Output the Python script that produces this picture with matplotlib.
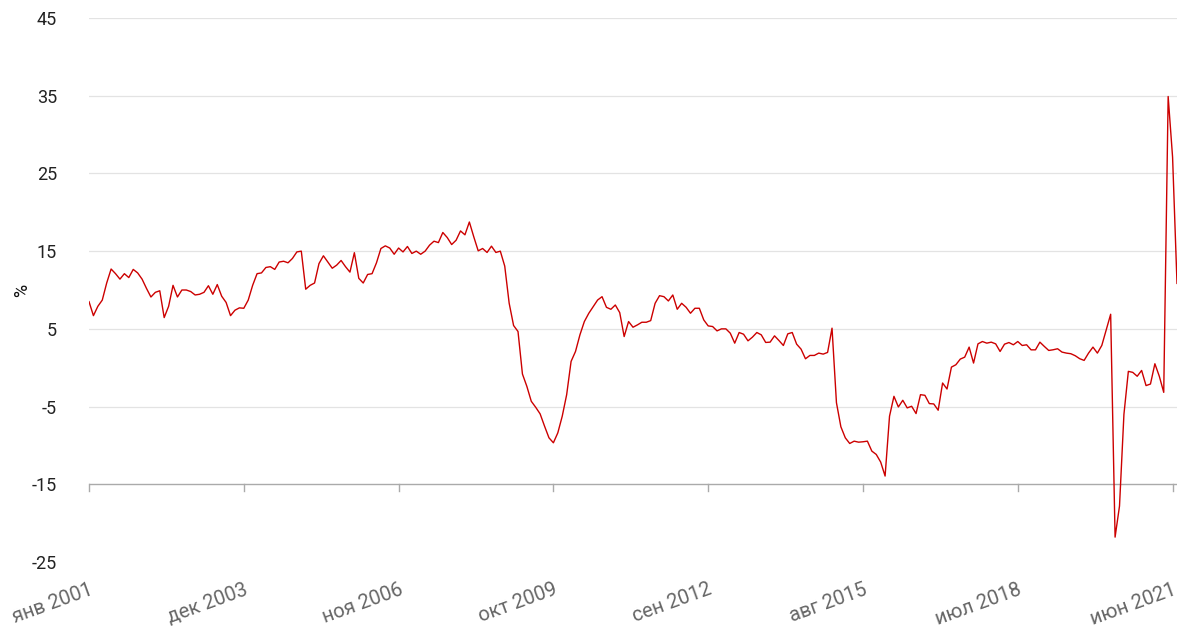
import numpy as np
import matplotlib.pyplot as plt

# monthly values, Jan 2001 .. Jul 2021 (%)
values = [
    8.5, 6.7, 7.9, 8.7, 10.9, 12.7, 12.1, 11.4, 12.1, 11.6, 12.65, 12.2,
    11.4, 10.2, 9.1, 9.7, 9.9, 6.45, 7.9, 10.6, 9.1, 10.0, 10.0, 9.8,
    9.36, 9.45, 9.7, 10.55, 9.45, 10.7, 9.2, 8.4, 6.7, 7.4, 7.7, 7.65,
    8.7, 10.6, 12.1, 12.2, 12.9, 13.0, 12.65, 13.6, 13.7, 13.5, 14.06, 14.9,
    15.0, 10.1, 10.6, 10.9, 13.4, 14.4, 13.6, 12.8, 13.2, 13.8, 13.0, 12.3,
    14.8, 11.5, 10.9, 12.0, 12.1, 13.5, 15.34, 15.68, 15.4, 14.6, 15.4, 14.9,
    15.6, 14.7, 15.0, 14.6, 15.0, 15.77, 16.28, 16.1, 17.4, 16.75, 15.85, 16.4,
    17.6, 17.1, 18.75, 16.84, 15.04, 15.34, 14.83, 15.64, 14.83, 15.0, 13.07, 8.3,
    5.43, 4.66, -0.81, -2.4, -4.32, -5.09, -5.94, -7.52, -9.02, -9.66, -8.38, -6.24,
    -3.47, 0.81, 2.09, 4.23, 5.94, 7.0, 7.86, 8.71, 9.14, 7.77, 7.52, 8.07,
    7.09, 4.01, 5.94, 5.21, 5.51, 5.85, 5.85, 6.06, 8.29, 9.27, 9.14, 8.59,
    9.36, 7.52, 8.29, 7.78, 7.01, 7.65, 7.65, 6.15, 5.38, 5.30, 4.74, 5.0,
    5.0, 4.44, 3.16, 4.53, 4.31, 3.46, 3.93, 4.53, 4.23, 3.25, 3.29, 4.10,
    3.5, 2.86, 4.36, 4.53, 3.03, 2.39, 1.15, 1.58, 1.58, 1.88, 1.75, 1.97,
    5.09, -4.5, -7.6, -9.02, -9.75, -9.45, -9.58, -9.53, -9.45, -10.73, -11.16, -12.14,
    -13.94, -6.24, -3.68, -5.05, -4.19, -5.17, -4.96, -5.9, -3.47, -3.55, -4.62, -4.66,
    -5.47, -1.97, -2.74, 0.08, 0.38, 1.11, 1.36, 2.65, 0.6, 3.07, 3.37, 3.16,
    3.29, 3.07, 2.09, 3.03, 3.24, 2.95, 3.37, 2.86, 2.95, 2.3, 2.3, 3.29,
    2.74, 2.22, 2.31, 2.44, 2.01, 1.88, 1.8, 1.54, 1.16, 0.94, 1.88, 2.65,
    1.88, 2.87, 4.87, 6.88, -21.8, -17.8, -6.0, -0.47, -0.6, -1.1, -0.35, -2.3,
    -2.1, 0.51, -1.1, -3.17, 34.9, 27.1, 10.85,
]
tick_pos = [0, 35, 70, 105, 140, 175, 210, 245]
tick_labels = ['янв 2001', 'дек 2003', 'ноя 2006', 'окт 2009',
               'сен 2012', 'авг 2015', 'июл 2018', 'июн 2021']
y_ticks = [-25, -15, -5, 5, 15, 25, 35, 45]

plt.rcParams['font.family'] = ['Roboto', 'DejaVu Sans']

fig = plt.figure(figsize=(12, 6.43), dpi=100)
ax = fig.add_axes([89/1200, 1-562/643, (1177-89)/1200, (562-18)/643])

x = np.arange(len(values))
ax.plot(x, values, color='#cc0000', lw=1.0)

ax.set_xlim(0, 246)
ax.set_ylim(-25, 45)
ax.set_yticks(y_ticks)
ax.set_yticklabels([str(v) for v in y_ticks], fontsize=13, color='#222222')
for v in y_ticks:
    if v != -15 and v != -25:
        ax.axhline(v, color='#e3e3e3', lw=0.9, zorder=0)
ax.axhline(-15, color='#aaaaaa', lw=1.0, zorder=1)

# tick marks hang below the -15 line
for p in tick_pos:
    ax.plot([p, p], [-15, -15.9], color='#aaaaaa', lw=1.0, clip_on=False)

ax.set_xticks(tick_pos)
ax.set_xticklabels(tick_labels, rotation=20, ha='right', rotation_mode='anchor',
                   fontsize=14.5, color='#666666')
ax.tick_params(axis='x', length=0, pad=13)
ax.tick_params(axis='y', length=0, pad=23)
ax.set_ylabel('%', fontsize=13, color='#111111')
ax.yaxis.set_label_coords(-0.053, 0.5)

for s in ax.spines.values():
    s.set_visible(False)

fig.savefig('out.png', dpi=100)
